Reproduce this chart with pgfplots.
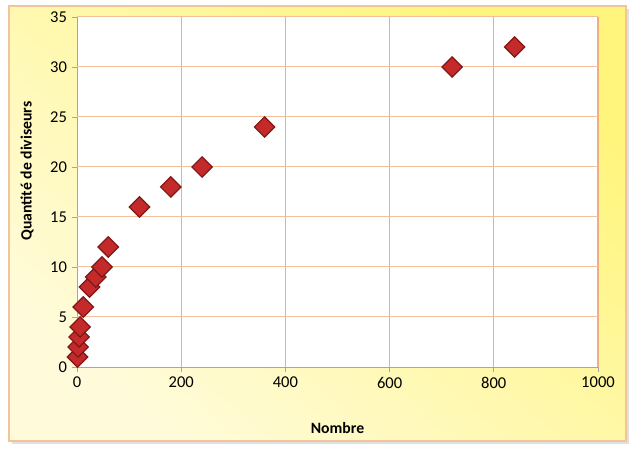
\documentclass[border=0pt]{standalone}
\usepackage{fontspec}
\setmainfont{Carlito}
\usepackage{pgfplots}
\pgfplotsset{compat=1.18}

\definecolor{palebg}{HTML}{FFFBDA}
\definecolor{brightbg}{HTML}{FFF57C}
\definecolor{framec}{HTML}{F2C49C}
\definecolor{gridc}{HTML}{F4C09C}
\definecolor{gridv}{HTML}{EFAE82}
\definecolor{axisc}{HTML}{A6A6A6}
\definecolor{markfill}{HTML}{C42A2A}
\definecolor{markedge}{HTML}{7E1818}

\begin{document}
\begin{tikzpicture}
% page size and chart frame (1px = 0.75pt)
\path (0pt,0pt) rectangle (477pt,336.75pt);
\fill[black!12] (9pt,3.75pt) rectangle (471.75pt,330pt);
\shade[top color=brightbg, bottom color=palebg, shading angle=-40, draw=framec, line width=0.8pt]
  (6.75pt,6pt) rectangle (469.5pt,332.25pt);

\begin{axis}[
    at={(57.75pt,61.5pt)}, anchor=south west,
    scale only axis,
    width=390.75pt, height=262.5pt,
    xmin=0, xmax=1000, ymin=0, ymax=35,
    xtick={0,200,...,1000},
    ytick={0,5,...,35},
    axis x line*=bottom, axis y line*=left,
    axis line style={draw=axisc, line width=0.6pt, -},
    tick align=outside,
    major tick length=4pt,
    major tick style={draw=axisc, line width=0.6pt},
    axis background/.style={fill=white},
    /pgf/number format/assume math mode=true,
    /pgf/number format/1000 sep={},
    tick label style={font=\fontsize{12.4}{14}\selectfont},
    label style={font=\fontsize{11.8}{14}\selectfont\bfseries},
    xlabel={Nombre},
    ylabel={Quantité de diviseurs},
    xlabel style={at={(axis description cs:0.5,-0.174)}, anchor=center},
    ylabel style={at={(axis description cs:-0.096,0.56)}, anchor=center},
    clip=false,
]
% grid lines
\pgfplotsinvokeforeach{200,400,...,1000}{
  \draw[draw=gridv, line width=0.85pt] (axis cs:#1,0) -- (axis cs:#1,35);
}
\pgfplotsinvokeforeach{5,10,...,35}{
  \draw[draw=gridc, line width=0.75pt] (axis cs:0,#1) -- (axis cs:1000,#1);
}
\addplot[only marks, mark=square*, mark size=5.4pt,
    every mark/.append style={rotate=45, fill=markfill, draw=markedge, line width=0.9pt}]
  coordinates {
    (1,1) (2,2) (4,3) (6,4) (12,6) (24,8) (36,9) (48,10) (60,12)
    (120,16) (180,18) (240,20) (360,24) (720,30) (840,32)
  };
\end{axis}
\end{tikzpicture}
\end{document}
